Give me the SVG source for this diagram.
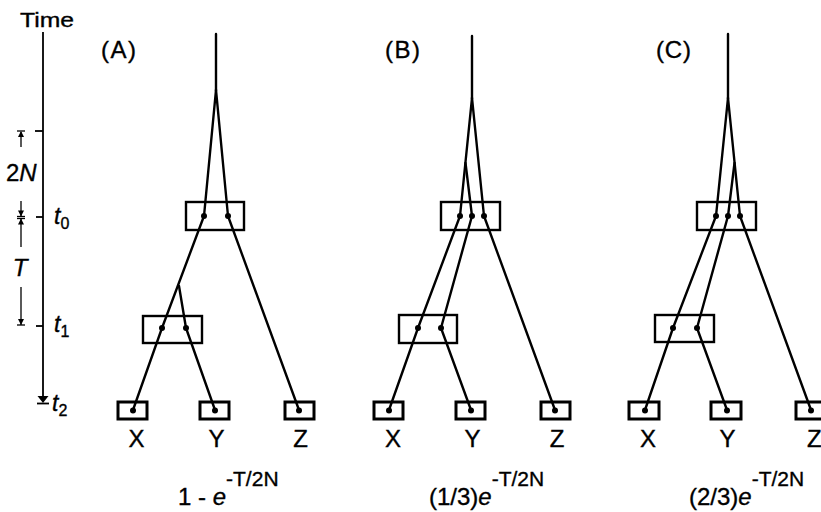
<svg xmlns="http://www.w3.org/2000/svg" width="821" height="512" viewBox="0 0 821 512">
  <style>
    .txt { font-family: "Liberation Sans", Arial, sans-serif; fill: #000; stroke: #000; stroke-width: 0.35; }
    .it { font-style: italic; }
    .br { fill: none; stroke: #000; stroke-width: 2.4; stroke-linejoin: round; stroke-linecap: round; }
    .box { fill: none; stroke: #000; stroke-width: 2.4; }
    .leaf { fill: none; stroke: #000; stroke-width: 3; }
    .dot { fill: #000; }
    .ax { fill: none; stroke: #000; stroke-width: 1.8; }
    .thin { fill: none; stroke: #000; stroke-width: 1.3; }
    .formula { font-size: 24px; }
    .sup { font-size: 21px; }
  </style>
  <defs>
    <!-- sampled lineages X, Y, Z at t2 -->
    <g id="leaves">
      <rect class="leaf" x="118" y="402" width="29" height="17"/>
      <rect class="leaf" x="200" y="402" width="29" height="17"/>
      <rect class="leaf" x="285" y="402" width="29" height="17"/>
      <circle class="dot" cx="133" cy="410.5" r="3"/>
      <circle class="dot" cx="215" cy="410.5" r="3"/>
      <circle class="dot" cx="299" cy="410.5" r="3"/>
    </g>
  </defs>

  <!-- time axis -->
  <g id="time-axis">
    <text class="txt" x="20" y="27" font-size="21" textLength="54" lengthAdjust="spacingAndGlyphs">Time</text>
    <line class="ax" x1="43" y1="32" x2="43" y2="398"/>
    <polygon points="37.5,396 48.5,396 43,403" fill="#000"/>
    <line x1="37" y1="403.5" x2="49" y2="403.5" stroke="#000" stroke-width="1.8"/>
    <line class="ax" x1="35" y1="131" x2="43" y2="131"/>
    <line class="ax" x1="36" y1="217" x2="43" y2="217"/>
    <line class="ax" x1="36" y1="326" x2="43" y2="326"/>
    <text class="txt it" x="54" y="224" font-size="23">t<tspan font-style="normal" font-size="16" dy="5">0</tspan></text>
    <text class="txt it" x="54" y="332" font-size="23">t<tspan font-style="normal" font-size="16" dy="5">1</tspan></text>
    <text class="txt it" x="52" y="411" font-size="23">t<tspan font-style="normal" font-size="16" dy="5">2</tspan></text>
  </g>

  <!-- interval brackets: 2N and T -->
  <g id="intervals">
    <line class="thin" x1="17" y1="131" x2="25" y2="131"/>
    <polygon points="18,137 24,137 21,131" fill="#000"/>
    <line class="thin" x1="21" y1="132" x2="21" y2="147"/>
    <text class="txt" x="6" y="181" font-size="24">2<tspan class="it">N</tspan></text>
    <line class="thin" x1="21" y1="201" x2="21" y2="216"/>
    <polygon points="18,210.5 24,210.5 21,216.5" fill="#000"/>
    <line class="thin" x1="17" y1="216.5" x2="25" y2="216.5"/>
    <line class="thin" x1="17" y1="218.5" x2="25" y2="218.5"/>
    <polygon points="18,224.5 24,224.5 21,218.5" fill="#000"/>
    <line class="thin" x1="21" y1="219" x2="21" y2="247"/>
    <text class="txt it" x="20" y="276" font-size="24" text-anchor="middle">T</text>
    <line class="thin" x1="21" y1="287" x2="21" y2="325"/>
    <polygon points="18,319 24,319 21,325" fill="#000"/>
    <line class="thin" x1="17" y1="325" x2="25" y2="325"/>
  </g>

  <!-- panel A -->
  <g id="panel-a">
    <text class="txt" x="101" y="58" font-size="24" textLength="35">(A)</text>
    <g id="a-connectors">
      <polyline class="br" points="216,34 216,90"/>
      <polyline class="br" points="216,90 204,216 162,328 133,410"/>
      <polyline class="br" points="216,90 228,216 299,410"/>
      <polyline class="br" points="179,286 186,328 215,410"/>
    </g>
    <g id="a-t0">
      <rect class="box" x="186" y="202" width="58" height="28"/>
      <circle class="dot" cx="204" cy="216" r="3"/>
      <circle class="dot" cx="228" cy="216" r="3"/>
    </g>
    <g id="a-t1">
      <rect class="box" x="143" y="316" width="59" height="27"/>
      <circle class="dot" cx="162" cy="328" r="3"/>
      <circle class="dot" cx="186" cy="328" r="3"/>
    </g>
    <g id="a-leaves"><use href="#leaves"/></g>
    <text class="txt" x="136.5" y="447" font-size="24" text-anchor="middle">X</text>
    <text class="txt" x="216.5" y="447" font-size="24" text-anchor="middle">Y</text>
    <text class="txt" x="300.5" y="447" font-size="24" text-anchor="middle">Z</text>
    <text class="txt formula" x="178" y="505">1 - <tspan class="it">e</tspan><tspan class="sup" dy="-19">-T/2N</tspan></text>
  </g>

  <!-- panel B -->
  <g id="panel-b">
    <text class="txt" x="385" y="58" font-size="24" textLength="35">(B)</text>
    <g id="b-connectors">
      <polyline class="br" points="472,36 472,98"/>
      <polyline class="br" points="472,98 460,216 418,328 389,410"/>
      <polyline class="br" points="465.5,163 472,216 441,328 471,410"/>
      <polyline class="br" points="472,98 484,216 555,410"/>
    </g>
    <g id="b-t0">
      <rect class="box" x="441" y="202" width="59" height="28"/>
      <circle class="dot" cx="460" cy="216" r="3"/>
      <circle class="dot" cx="472" cy="216" r="3"/>
      <circle class="dot" cx="484" cy="216" r="3"/>
    </g>
    <g id="b-t1">
      <rect class="box" x="399" y="315" width="58" height="28"/>
      <circle class="dot" cx="418" cy="328" r="3"/>
      <circle class="dot" cx="441" cy="328" r="3"/>
    </g>
    <g id="b-leaves"><use href="#leaves" transform="translate(256,0)"/></g>
    <text class="txt" x="393" y="447" font-size="24" text-anchor="middle">X</text>
    <text class="txt" x="472.5" y="447" font-size="24" text-anchor="middle">Y</text>
    <text class="txt" x="557" y="447" font-size="24" text-anchor="middle">Z</text>
    <text class="txt formula" x="429" y="505">(1/3)<tspan class="it">e</tspan><tspan class="sup" dy="-19">-T/2N</tspan></text>
  </g>

  <!-- panel C -->
  <g id="panel-c">
    <text class="txt" x="656" y="58" font-size="24" textLength="35">(C)</text>
    <g id="c-connectors">
      <polyline class="br" points="728,34 728,98"/>
      <polyline class="br" points="728,98 716,216 673,328 645,410"/>
      <polyline class="br" points="728,98 740,216 811,410"/>
      <polyline class="br" points="734.5,163 728,216 697,328 727,410"/>
    </g>
    <g id="c-t0">
      <rect class="box" x="697" y="202" width="59" height="28"/>
      <circle class="dot" cx="716" cy="216" r="3"/>
      <circle class="dot" cx="728" cy="216" r="3"/>
      <circle class="dot" cx="740" cy="216" r="3"/>
    </g>
    <g id="c-t1">
      <rect class="box" x="655" y="315" width="59" height="27"/>
      <circle class="dot" cx="673" cy="328" r="3"/>
      <circle class="dot" cx="697" cy="328" r="3"/>
    </g>
    <g id="c-leaves">
      <rect class="leaf" x="629" y="402" width="30" height="17"/>
      <rect class="leaf" x="711" y="402" width="30" height="17"/>
      <rect class="leaf" x="796" y="402" width="30" height="17"/>
      <circle class="dot" cx="645" cy="410.5" r="3"/>
      <circle class="dot" cx="727" cy="410.5" r="3"/>
      <circle class="dot" cx="811" cy="410.5" r="3"/>
    </g>
    <text class="txt" x="648" y="447" font-size="24" text-anchor="middle">X</text>
    <text class="txt" x="727.5" y="447" font-size="24" text-anchor="middle">Y</text>
    <text class="txt" x="807" y="447" font-size="24">Z</text>
    <text class="txt formula" x="689" y="505">(2/3)<tspan class="it">e</tspan><tspan class="sup" dy="-19">-T/2N</tspan></text>
  </g>
</svg>
